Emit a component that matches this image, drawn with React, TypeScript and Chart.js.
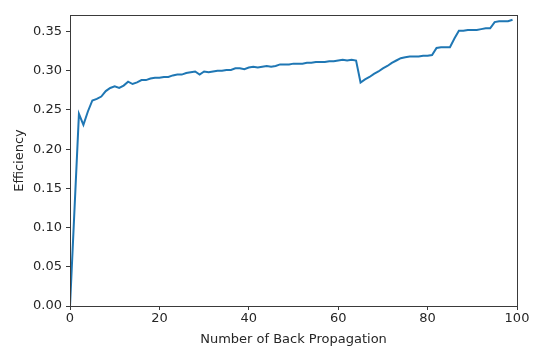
import React, { useEffect, useRef } from "react";
import { Chart, registerables } from "chart.js";

Chart.register(...registerables);

const xValues: number[] = [
  0, 2, 3, 4, 5, 6, 7, 8, 9, 10, 11, 12, 13, 14, 15, 16, 17, 18, 19, 20,
  21, 22, 23, 24, 25, 26, 27, 28, 29, 30, 31, 32, 33, 34, 35, 36, 37, 38, 39, 40,
  41, 42, 43, 44, 45, 46, 47, 48, 49, 50, 51, 52, 53, 54, 55, 56, 57, 58, 59, 60,
  61, 62, 63, 64, 65, 66, 67, 68, 69, 70, 71, 72, 73, 74, 75, 76, 77, 78, 79, 80,
  81, 82, 83, 84, 85, 86, 87, 88, 89, 90, 91, 92, 93, 94, 95, 96, 97, 98, 99,
];

const efficiency: number[] = [
  0.0, 0.245, 0.231, 0.248, 0.262, 0.264, 0.267, 0.274, 0.278, 0.28, 0.278, 0.281, 0.286, 0.283, 0.285, 0.288, 0.288, 0.29, 0.291, 0.291,
  0.292, 0.292, 0.294, 0.295, 0.295, 0.297, 0.298, 0.299, 0.295, 0.299, 0.298, 0.299, 0.3, 0.3, 0.301, 0.301, 0.303, 0.303, 0.302, 0.304,
  0.305, 0.304, 0.305, 0.306, 0.305, 0.306, 0.308, 0.308, 0.308, 0.309, 0.309, 0.309, 0.31, 0.31, 0.311, 0.311, 0.311, 0.312, 0.312, 0.313,
  0.314, 0.313, 0.314, 0.313, 0.285, 0.289, 0.292, 0.296, 0.299, 0.303, 0.306, 0.31, 0.313, 0.316, 0.317, 0.318, 0.318, 0.318, 0.319, 0.319,
  0.32, 0.329, 0.33, 0.33, 0.33, 0.341, 0.351, 0.351, 0.352, 0.352, 0.352, 0.353, 0.354, 0.354, 0.362, 0.363, 0.363, 0.363, 0.365,
];

const xLabel = "Number of Back Propagation";
const yLabel = "Efficiency";

const FONT = "'DejaVu Sans', sans-serif";
const TEXT = "#262626";
const AXIS = "#3a3a3a";
const FS = 13;

const framePlugin = {
  id: "frame",
  afterDraw(chart: any) {
    const { ctx, chartArea } = chart;
    ctx.save();
    ctx.strokeStyle = AXIS;
    ctx.lineWidth = 1;
    ctx.strokeRect(
      Math.round(chartArea.left) + 0.5,
      Math.round(chartArea.top) + 0.5,
      Math.round(chartArea.right - chartArea.left),
      Math.round(chartArea.bottom - chartArea.top)
    );
    ctx.restore();
  },
};

export default function App() {
  const ref = useRef<HTMLCanvasElement | null>(null);

  useEffect(() => {
    document.body.style.margin = "0";
    const canvas = ref.current;
    if (!canvas) return;
    const chart = new Chart(canvas, {
      type: "line",
      data: {
        datasets: [
          {
            data: xValues.map((x, i) => ({ x, y: efficiency[i] })),
            borderColor: "#1f77b4",
            borderWidth: 2,
            pointRadius: 0,
            tension: 0,
            fill: false,
          },
        ],
      },
      options: {
        responsive: false,
        animation: false,
        events: [],
        layout: { padding: { top: 15, right: 17, left: 0, bottom: 0 } },
        plugins: { legend: { display: false }, tooltip: { enabled: false } },
        scales: {
          x: {
            type: "linear",
            min: 0,
            max: 100,
            afterFit(scale: any) {
              scale.height = 41;
            },
            grid: {
              drawOnChartArea: false,
              drawTicks: true,
              tickLength: 4,
              tickColor: AXIS,
            },
            border: { display: false },
            ticks: {
              stepSize: 20,
              padding: 1,
              maxRotation: 0,
              color: TEXT,
              font: { family: FONT, size: FS },
              includeBounds: false,
            },
            title: {
              display: true,
              text: xLabel,
              color: TEXT,
              font: { family: FONT, size: FS },
              padding: { top: 0, bottom: 0 },
            },
          },
          y: {
            type: "linear",
            min: 0,
            max: 0.371,
            afterFit(scale: any) {
              scale.width = 70;
            },
            grid: {
              drawOnChartArea: false,
              drawTicks: true,
              tickLength: 4,
              tickColor: AXIS,
            },
            border: { display: false },
            ticks: {
              stepSize: 0.05,
              padding: 4,
              color: TEXT,
              font: { family: FONT, size: FS },
              includeBounds: false,
              callback: (v: any) => Number(v).toFixed(2),
            },
            title: {
              display: true,
              text: yLabel,
              color: TEXT,
              font: { family: FONT, size: FS },
              padding: { top: 12, bottom: 0 },
            },
          },
        },
      },
      plugins: [framePlugin],
    });
    return () => chart.destroy();
  }, []);

  return <canvas ref={ref} width={534} height={347} style={{ display: "block" }} />;
}
